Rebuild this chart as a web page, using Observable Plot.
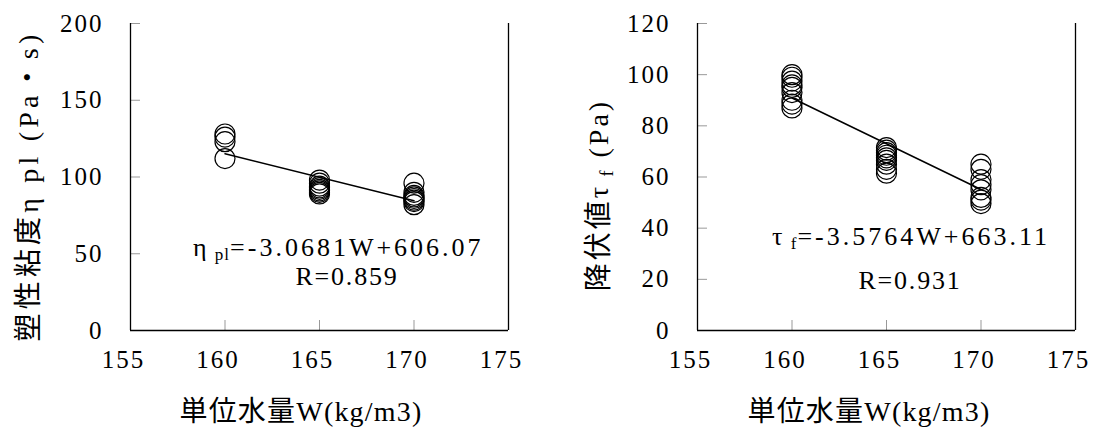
<!DOCTYPE html>
<html><head><meta charset="utf-8">
<script src="https://cdn.jsdelivr.net/npm/d3@7"></script>
<script src="https://cdn.jsdelivr.net/npm/@observablehq/plot@0.6"></script>
<style>
body{margin:0;background:#fff;}
#wrap{display:flex;width:1096px;height:428px;background:#fff;}
#wrap svg text{font-family:"Liberation Serif","Times New Roman","DejaVu Serif","Noto Sans CJK JP",serif !important;}
</style></head><body><div id="wrap"></div>
<script>
// ---- data ----
const xTicks = [155, 160, 165, 170, 175];
const yTicksEta = [0, 50, 100, 150, 200];
const yTicksTau = [0, 20, 40, 60, 80, 100, 120];

const waterW = [160, 165, 170];
const eta160 = [128, 126, 123, 112];
const eta165 = [98, 96, 94, 93, 92, 91, 90, 89];
const eta170 = [96, 90, 88, 87, 86, 85, 84, 82];
const tau160 = [100, 99, 97.5, 96, 95, 93, 90, 88.5, 87];
const tau165 = [71.5, 70.5, 69.5, 68.5, 67.5, 66.5, 65, 63, 61.5];
const tau170 = [65, 63, 59, 57, 55, 52, 51, 49.6];

const etaSlope = -3.0681, etaIntercept = 606.07, etaR = "0.859";
const tauSlope = -3.5764, tauIntercept = 663.11, tauR = "0.931";
const fitRange = [160, 170];

const xLabel = "単位水量W(kg/m3)";

const W = 548, H = 428, MT = 23, MB = 98;

function rows(groups) {
  return groups.flatMap((vals, i) => vals.map(v => ({w: waterW[i], v})));
}

function chart(cfg) {
  const fw = W - cfg.ml - cfg.mr, fh = H - MT - MB;
  const fit = fitRange.map(w => ({w, v: cfg.slope * w + cfg.intercept}));
  const svg = Plot.plot({
    width: W, height: H,
    marginLeft: cfg.ml, marginRight: cfg.mr, marginTop: MT, marginBottom: MB,
    style: {background: "white", color: "black", fontSize: "24px"},
    x: {domain: [155, 175]},
    y: {domain: [cfg.yTicks[0], cfg.yTicks[cfg.yTicks.length - 1]]},
    marks: [
      Plot.tickY(cfg.yTicks.slice(1), {y: d => d, stroke: "#999", insetRight: fw - 10}),
      Plot.tickX(xTicks.slice(1, -1), {x: d => d, stroke: "#999", insetTop: fh - 10}),
      Plot.axisY(cfg.yTicks, {tickSize: 0, tickPadding: 27, label: null, fontSize: 25}),
      Plot.axisX(xTicks, {tickSize: 0, tickPadding: 20, label: null, fontSize: 25, dx: -7}),
      Plot.ruleX([155], {stroke: "black", strokeWidth: 1.3}),
      Plot.ruleX([175], {stroke: "black", strokeWidth: 1.3}),
      Plot.ruleY([cfg.yTicks[0]], {stroke: "black", strokeWidth: 1.3}),
      Plot.line(fit, {x: "w", y: "v", stroke: "black", strokeWidth: 1.5}),
      Plot.dot(cfg.data, {x: "w", y: "v", r: 10, stroke: "black", strokeWidth: 1.2, fill: "none"})
    ]
  });
  const s = d3.select(svg);
  s.selectAll("g[aria-label$='tick label']").attr("font-size", 25).style("font-size", "25px");
  s.selectAll("text").style("letter-spacing", "2px");
  const txt = () => s.append("text").style("fill", "black");
  // x label
  txt().attr("x", cfg.xlx).attr("y", 421).attr("text-anchor", "middle")
    .style("font-size", "28px").style("letter-spacing", "1.2px")
    .text(xLabel);
  // y label (rotated)
  const yl = txt()
    .attr("transform", `translate(${cfg.ylx},${cfg.yly}) rotate(-90)`)
    .attr("text-anchor", "middle").style("font-size", "28px")
    .style("letter-spacing", cfg.yls);
  cfg.ylabel(yl);
  // equation
  const eq = txt().attr("x", cfg.eqx).attr("y", cfg.eqy).attr("text-anchor", "start")
    .style("font-size", "26px").style("letter-spacing", "3px");
  eq.append("tspan").text(cfg.sym);
  eq.append("tspan").attr("dy", 4).style("font-size", "17px").style("letter-spacing", "1px").text(" " + cfg.sub);
  eq.append("tspan").attr("dy", -4)
    .text(`=${cfg.slope}W+${cfg.intercept.toFixed(2)}`);
  txt().attr("x", cfg.rx).attr("y", cfg.ry).attr("text-anchor", "middle")
    .style("font-size", "26px").style("letter-spacing", "1.8px")
    .text(`R=${cfg.R}`);
  return svg;
}

const wrap = document.getElementById("wrap");
wrap.appendChild(chart({
  ml: 130, mr: 40, yTicks: yTicksEta, data: rows([eta160, eta165, eta170]),
  slope: etaSlope, intercept: etaIntercept, R: etaR,
  sym: "η", sub: "pl", eqx: 193, eqy: 256, rx: 347, ry: 285,
  xlx: 301, ylx: 38, yly: 186, yls: "4.2px",
  ylabel: t => { t.append("tspan").text("塑性粘度η pl (Pa・s)"); }
}));
wrap.appendChild(chart({
  ml: 149, mr: 21, yTicks: yTicksTau, data: rows([tau160, tau165, tau170]),
  slope: tauSlope, intercept: tauIntercept, R: tauR,
  sym: "τ", sub: "f", eqx: 224, eqy: 245, rx: 362, ry: 289,
  xlx: 321, ylx: 60, yly: 195, yls: "3px",
  ylabel: t => {
    t.append("tspan").text("降伏値τ");
    t.append("tspan").attr("dy", 5).style("font-size", "18px").text(" f");
    t.append("tspan").attr("dy", -5).text(" (Pa)");
  }
}));
</script></body></html>
